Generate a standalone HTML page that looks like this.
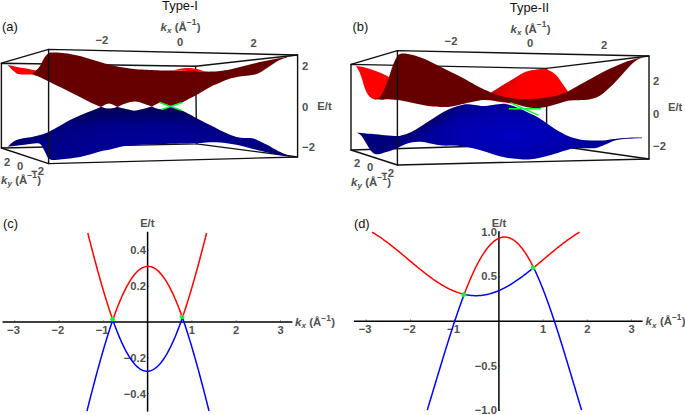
<!DOCTYPE html>
<html><head><meta charset="utf-8"><title>Type-I and Type-II Weyl</title>
<style>
html,body{margin:0;padding:0;background:#fff;}
body{width:685px;height:415px;overflow:hidden;font-family:"Liberation Sans",sans-serif;}
svg{display:block;}
text{font-family:"Liberation Sans",sans-serif;}
.t{font-size:11.2px;font-weight:bold;fill:#505050;}
.ti{font-size:11.2px;font-weight:bold;font-style:italic;fill:#505050;}
.p{font-size:12.9px;fill:#111;}
.e{stroke:#111;stroke-width:1.4;fill:none;stroke-linecap:round;stroke-linejoin:round;}
.ax{stroke:#000;stroke-width:1.5;fill:none;}
.tk{stroke:#333;stroke-width:0.6;fill:none;}
.r{stroke:#f00;stroke-width:1.5;fill:none;stroke-linejoin:round;}
.b{stroke:#00f;stroke-width:1.5;fill:none;stroke-linejoin:round;}
</style></head><body>
<svg width="685" height="415" viewBox="0 0 685 415">
<defs>
<radialGradient id="gb1" gradientUnits="userSpaceOnUse" cx="0" cy="0" r="1" gradientTransform="translate(150 152) scale(165 52)">
<stop offset="0" stop-color="#00009e"/><stop offset="0.5" stop-color="#00008e"/><stop offset="0.85" stop-color="#000070"/><stop offset="1" stop-color="#000066"/>
</radialGradient>
<radialGradient id="gb2" gradientUnits="userSpaceOnUse" cx="0" cy="0" r="1" gradientTransform="translate(512 136) scale(130 46)">
<stop offset="0" stop-color="#0000c2"/><stop offset="0.4" stop-color="#0000ae"/><stop offset="0.8" stop-color="#00008c"/><stop offset="1" stop-color="#00007c"/>
</radialGradient>
<linearGradient id="gk1" gradientUnits="userSpaceOnUse" x1="0" y1="104" x2="0" y2="126">
<stop offset="0" stop-color="#000030" stop-opacity="0.45"/><stop offset="1" stop-color="#000030" stop-opacity="0"/>
</linearGradient>
<radialGradient id="gk2" gradientUnits="userSpaceOnUse" cx="0" cy="0" r="1" gradientTransform="translate(428 112) rotate(-27) scale(52 20)">
<stop offset="0" stop-color="#000028" stop-opacity="0.55"/><stop offset="0.5" stop-color="#000028" stop-opacity="0.3"/><stop offset="1" stop-color="#000028" stop-opacity="0"/>
</radialGradient>
<linearGradient id="gr2" gradientUnits="userSpaceOnUse" x1="505" y1="72" x2="535" y2="95">
<stop offset="0" stop-color="#c00000"/><stop offset="0.45" stop-color="#f80000"/><stop offset="1" stop-color="#ff0000"/>
</linearGradient>
</defs>
<rect width="685" height="415" fill="#fff"/>
<text x="2" y="30.5" class="p" text-anchor="start">(a)</text>
<text x="180" y="10" class="p" text-anchor="middle">Type-I</text>
<text x="160.5" y="31" class="t" style="font-size:11.4px" text-anchor="start"><tspan style="font-style:italic">k</tspan><tspan style="font-style:italic;font-size:8px" dx="0.1" dy="2.1">x</tspan><tspan dx="3.4" dy="-2.1">(Å</tspan><tspan style="font-size:8.4px" dx="0" dy="-5.7">−1</tspan><tspan dx="0.3" dy="5.7">)</tspan></text>
<text x="101.8" y="44.4" class="t" text-anchor="middle">−2</text>
<text x="180" y="45.6" class="t" text-anchor="middle">0</text>
<text x="253.7" y="47.3" class="t" text-anchor="middle">2</text>
<text x="305" y="70" class="t" text-anchor="middle">2</text>
<text x="305" y="110.6" class="t" text-anchor="middle">0</text>
<text x="308.5" y="151.2" class="t" text-anchor="middle">−2</text>
<text x="324.5" y="109.8" class="t" text-anchor="middle">E/t</text>
<text x="7" y="165.8" class="t" text-anchor="middle">2</text>
<text x="20" y="169.6" class="t" text-anchor="middle">0</text>
<text x="37.5" y="174.6" class="t" text-anchor="middle">−2</text>
<text x="1" y="184" class="t" style="font-size:11.4px" text-anchor="start"><tspan style="font-style:italic">k</tspan><tspan style="font-style:italic;font-size:8px" dx="0.1" dy="2.1">y</tspan><tspan dx="3.4" dy="-2.1">(Å</tspan><tspan style="font-size:8.4px" dx="0" dy="-5.7">−1</tspan><tspan dx="0.3" dy="5.7">)</tspan></text>
<path class="e" d="M1.4 63.2L195.6 66.2L196.6 143.9L1.4 148Z"/>
<path class="e" d="M195.6 66.2L297.6 55"/>
<path class="e" d="M196.6 143.9L297.6 157"/>
<path class="e" d="M1.4 63.2L48.6 49.4"/>
<path class="e" d="M1.4 148L48.6 163.6"/>
<path fill="url(#gb1)" d="M8 146.4C8.83 145.67 11.33 143.15 13 142C14.67 140.85 16 140.17 18 139.5C20 138.83 22.67 138.42 25 138C27.33 137.58 29.5 137.5 32 137C34.5 136.5 37.23 135.83 40 135C42.77 134.17 45.27 133.53 48.6 132C51.93 130.47 56.43 127.8 60 125.8C63.57 123.8 66.67 121.72 70 120C73.33 118.28 76.58 116.95 80 115.5C83.42 114.05 87 112.73 90.5 111.3C94 109.87 99.25 107.63 101 106.9C102.32 107.17 106.12 108.5 108.9 108.5C111.68 108.5 116.23 107.17 117.7 106.9C119.08 107.25 123.23 108.37 126 109C128.77 109.63 131.47 110.7 134.3 110.7C137.13 110.7 140.08 109.72 143 109C145.92 108.28 150.33 106.83 151.8 106.4C152.5 106.72 154.38 107.78 156 108.3C157.62 108.82 159.83 109.5 161.5 109.5C163.17 109.5 164.42 108.82 166 108.3C167.58 107.78 170.17 106.72 171 106.4C171.83 106.72 174.23 107.63 176 108.3C177.77 108.97 179.27 109.37 181.6 110.4C183.93 111.43 186.93 112.9 190 114.5C193.07 116.1 196.33 118.08 200 120C203.67 121.92 208.03 124 212 126C215.97 128 220.47 130.42 223.8 132C227.13 133.58 229.67 134.62 232 135.5C234.33 136.38 235.8 136.88 237.8 137.3C239.8 137.72 241.97 137.87 244 138C246.03 138.13 248.33 137.98 250 138.1C251.67 138.22 252.83 138.4 254 138.7C255.17 139 255.67 139.32 257 139.9C258.33 140.48 260.23 141.33 262 142.2C263.77 143.07 265.77 144.08 267.6 145.1C269.43 146.12 271.27 147.33 273 148.3C274.73 149.27 276.42 150.12 278 150.9C279.58 151.68 281.02 152.35 282.5 153C283.98 153.65 284.9 154.13 286.9 154.8C288.9 155.47 293.23 156.63 294.5 157C292.92 156.78 288.32 156.22 285 155.7C281.68 155.18 278.38 154.63 274.6 153.9C270.82 153.17 266.4 152.23 262.3 151.3C258.2 150.37 254.08 149.33 250 148.3C245.92 147.27 241.88 145.98 237.8 145.1C233.72 144.22 229.3 143.48 225.5 143C221.7 142.52 218.25 142.28 215 142.2C211.75 142.12 209.07 142.32 206 142.5C202.93 142.68 200.93 143.12 196.6 143.3C192.27 143.48 186.1 143.45 180 143.6C173.9 143.75 166.67 144.02 160 144.2C153.33 144.38 146 144.38 140 144.7C134 145.02 128.67 145.38 124 146.1C119.33 146.82 116 148.1 112 149C108 149.9 103.67 150.58 100 151.5C96.33 152.42 93.33 153.58 90 154.5C86.67 155.42 83.33 156.33 80 157C76.67 157.67 73.33 158.08 70 158.5C66.67 158.92 62.5 159.25 60 159.5C57.5 159.75 56.33 159.92 55 160C53.67 160.08 52.83 160.12 52 160C51.17 159.88 50.67 159.63 50 159.3C49.33 158.97 48.75 159.05 48 158C47.25 156.95 46.33 154.67 45.5 153C44.67 151.33 43.75 149.37 43 148C42.25 146.63 41.83 145.58 41 144.8C40.17 144.02 39.83 143.43 38 143.3C36.17 143.17 33 143.67 30 144C27 144.33 22.83 144.93 20 145.3C17.17 145.67 15 146.02 13 146.2C11 146.38 8.83 146.37 8 146.4Z"/>
<path fill="url(#gk1)" d="M8 146.4C8.83 145.67 11.33 143.15 13 142C14.67 140.85 16 140.17 18 139.5C20 138.83 22.67 138.42 25 138C27.33 137.58 29.5 137.5 32 137C34.5 136.5 37.23 135.83 40 135C42.77 134.17 45.27 133.53 48.6 132C51.93 130.47 56.43 127.8 60 125.8C63.57 123.8 66.67 121.72 70 120C73.33 118.28 76.58 116.95 80 115.5C83.42 114.05 87 112.73 90.5 111.3C94 109.87 99.25 107.63 101 106.9C102.32 107.17 106.12 108.5 108.9 108.5C111.68 108.5 116.23 107.17 117.7 106.9C119.08 107.25 123.23 108.37 126 109C128.77 109.63 131.47 110.7 134.3 110.7C137.13 110.7 140.08 109.72 143 109C145.92 108.28 150.33 106.83 151.8 106.4C152.5 106.72 154.38 107.78 156 108.3C157.62 108.82 159.83 109.5 161.5 109.5C163.17 109.5 164.42 108.82 166 108.3C167.58 107.78 170.17 106.72 171 106.4C171.83 106.72 174.23 107.63 176 108.3C177.77 108.97 179.27 109.37 181.6 110.4C183.93 111.43 186.93 112.9 190 114.5C193.07 116.1 196.33 118.08 200 120C203.67 121.92 208.03 124 212 126C215.97 128 220.47 130.42 223.8 132C227.13 133.58 229.67 134.62 232 135.5C234.33 136.38 235.8 136.88 237.8 137.3C239.8 137.72 241.97 137.87 244 138C246.03 138.13 248.33 137.98 250 138.1C251.67 138.22 252.83 138.4 254 138.7C255.17 139 255.67 139.32 257 139.9C258.33 140.48 260.23 141.33 262 142.2C263.77 143.07 265.77 144.08 267.6 145.1C269.43 146.12 271.27 147.33 273 148.3C274.73 149.27 276.42 150.12 278 150.9C279.58 151.68 281.02 152.35 282.5 153C283.98 153.65 284.9 154.13 286.9 154.8C288.9 155.47 293.23 156.63 294.5 157C292.92 156.78 288.32 156.22 285 155.7C281.68 155.18 278.38 154.63 274.6 153.9C270.82 153.17 266.4 152.23 262.3 151.3C258.2 150.37 254.08 149.33 250 148.3C245.92 147.27 241.88 145.98 237.8 145.1C233.72 144.22 229.3 143.48 225.5 143C221.7 142.52 218.25 142.28 215 142.2C211.75 142.12 209.07 142.32 206 142.5C202.93 142.68 200.93 143.12 196.6 143.3C192.27 143.48 186.1 143.45 180 143.6C173.9 143.75 166.67 144.02 160 144.2C153.33 144.38 146 144.38 140 144.7C134 145.02 128.67 145.38 124 146.1C119.33 146.82 116 148.1 112 149C108 149.9 103.67 150.58 100 151.5C96.33 152.42 93.33 153.58 90 154.5C86.67 155.42 83.33 156.33 80 157C76.67 157.67 73.33 158.08 70 158.5C66.67 158.92 62.5 159.25 60 159.5C57.5 159.75 56.33 159.92 55 160C53.67 160.08 52.83 160.12 52 160C51.17 159.88 50.67 159.63 50 159.3C49.33 158.97 48.75 159.05 48 158C47.25 156.95 46.33 154.67 45.5 153C44.67 151.33 43.75 149.37 43 148C42.25 146.63 41.83 145.58 41 144.8C40.17 144.02 39.83 143.43 38 143.3C36.17 143.17 33 143.67 30 144C27 144.33 22.83 144.93 20 145.3C17.17 145.67 15 146.02 13 146.2C11 146.38 8.83 146.37 8 146.4Z"/>
<path fill="#ff0000" d="M7.6 65C8.83 65.23 12.1 65.85 15 66.4C17.9 66.95 21.5 67.6 25 68.3C28.5 69 33.5 70.07 36 70.6C38.5 71.13 39.33 71.35 40 71.5C39.33 72.08 37.33 74.48 36 75C34.67 75.52 32.67 74.67 32 74.6C30.83 74.57 27.33 74.5 25 74.4C22.67 74.3 20 74.65 18 74C16 73.35 14.73 72 13 70.5C11.27 69 8.5 65.92 7.6 65Z"/>
<path fill="#660000" d="M32 74C32.67 73.43 34.67 71.93 36 70.6C37.33 69.27 38.83 67.77 40 66C41.17 64.23 42 61.75 43 60C44 58.25 45 56.67 46 55.5C47 54.33 48 53.48 49 53C50 52.52 50.17 52.63 52 52.6C53.83 52.57 57 52.57 60 52.8C63 53.03 66.67 53.47 70 54C73.33 54.53 76.67 55.17 80 56C83.33 56.83 86.67 58 90 59C93.33 60 96.67 61.03 100 62C103.33 62.97 106.67 63.97 110 64.8C113.33 65.63 116.67 66.38 120 67C123.33 67.62 126.67 68.07 130 68.5C133.33 68.93 135 69.28 140 69.6C145 69.92 154.33 70.27 160 70.4C165.67 70.53 169 70.33 174 70.4C179 70.47 184.83 70.6 190 70.8C195.17 71 201.33 71.47 205 71.6C208.67 71.73 209.5 71.7 212 71.6C214.5 71.5 217 71.35 220 71C223 70.65 226.67 70.17 230 69.5C233.33 68.83 236.67 67.83 240 67C243.33 66.17 246.67 65.33 250 64.5C253.33 63.67 256.67 62.75 260 62C263.33 61.25 266.67 60.67 270 60C273.33 59.33 276.67 58.67 280 58C283.33 57.33 287.5 56.47 290 56C292.5 55.53 294.17 55.33 295 55.2C294.17 55.43 291.5 56.17 290 56.6C288.5 57.03 287.5 57.3 286 57.8C284.5 58.3 282.67 58.9 281 59.6C279.33 60.3 277.83 60.93 276 62C274.17 63.07 272 64.67 270 66C268 67.33 266 68.75 264 70C262 71.25 260 72.67 258 73.5C256 74.33 254 74.62 252 75C250 75.38 248 75.57 246 75.8C244 76.03 242.33 76.03 240 76.4C237.67 76.77 234.33 77.4 232 78C229.67 78.6 228.33 79.08 226 80C223.67 80.92 220.33 82.5 218 83.5C215.67 84.5 214.17 84.92 212 86C209.83 87.08 207 88.85 205 90C203 91.15 202.17 91.68 200 92.9C197.83 94.12 194.92 95.7 192 97.3C189.08 98.9 184.08 101.63 182.5 102.5L171 106.4L159.7 102.5L151.8 106.4C150.33 105.9 145.77 104.2 143 103.4C140.23 102.6 138.12 101.6 135.2 101.6C132.28 101.6 128.42 102.52 125.5 103.4C122.58 104.28 119 106.32 117.7 106.9C116.23 106.32 111.68 103.4 108.9 103.4C106.12 103.4 102.32 106.32 101 106.9C99.25 106.17 94 104.17 90.5 102.5C87 100.83 83.42 98.65 80 96.9C76.58 95.15 73.33 93.65 70 92C66.67 90.35 63.57 88.77 60 87C56.43 85.23 51.93 83.02 48.6 81.4C45.27 79.78 42.77 78.53 40 77.3C37.23 76.07 33.33 74.55 32 74Z"/>
<path fill="#ff0000" d="M173 70.6C174.17 70.3 177.5 69.23 180 68.8C182.5 68.37 185.33 68 188 68C190.67 68 193.08 68.17 196 68.8C198.92 69.43 203.92 71.3 205.5 71.8C202.92 71.7 195.42 71.4 190 71.2C184.58 71 175.83 70.7 173 70.6Z"/>
<path stroke="#00ff33" stroke-width="1.4" fill="none" d="M159.7 102.5L181.6 110.4M161.5 109.5L182.5 102.5"/>
<path class="e" d="M48.6 49.4L297.6 55L297.6 157L48.6 163.6Z"/>
<text x="352.5" y="31" class="p" text-anchor="start">(b)</text>
<text x="529.5" y="12" class="p" text-anchor="middle">Type-II</text>
<text x="510.5" y="32.5" class="t" style="font-size:11.4px" text-anchor="start"><tspan style="font-style:italic">k</tspan><tspan style="font-style:italic;font-size:8px" dx="0.1" dy="2.1">x</tspan><tspan dx="3.4" dy="-2.1">(Å</tspan><tspan style="font-size:8.4px" dx="0" dy="-5.7">−1</tspan><tspan dx="0.3" dy="5.7">)</tspan></text>
<text x="451" y="45.2" class="t" text-anchor="middle">−2</text>
<text x="530" y="46.9" class="t" text-anchor="middle">0</text>
<text x="604.2" y="48.6" class="t" text-anchor="middle">2</text>
<text x="656" y="84.6" class="t" text-anchor="middle">2</text>
<text x="656" y="117.7" class="t" text-anchor="middle">0</text>
<text x="659.5" y="150" class="t" text-anchor="middle">−2</text>
<text x="668" y="110.8" class="t" text-anchor="start">E/t</text>
<text x="357" y="167.2" class="t" text-anchor="middle">2</text>
<text x="370" y="171.2" class="t" text-anchor="middle">0</text>
<text x="387.5" y="176.6" class="t" text-anchor="middle">−2</text>
<text x="351" y="186" class="t" style="font-size:11.4px" text-anchor="start"><tspan style="font-style:italic">k</tspan><tspan style="font-style:italic;font-size:8px" dx="0.1" dy="2.1">y</tspan><tspan dx="3.4" dy="-2.1">(Å</tspan><tspan style="font-size:8.4px" dx="0" dy="-5.7">−1</tspan><tspan dx="0.3" dy="5.7">)</tspan></text>
<path class="e" d="M351 64.4L546.6 68.4L546.6 144.2L351 150Z"/>
<path class="e" d="M546.6 68.4L649 56"/>
<path class="e" d="M546.6 144.2L649 159"/>
<path class="e" d="M351 64.4L397.4 50.6"/>
<path class="e" d="M351 150L397.4 165"/>
<path fill="url(#gb2)" d="M356 132.4C357.33 132.53 361.17 132.93 364 133.2C366.83 133.47 369.5 133.67 373 134C376.5 134.33 380.93 134.87 385 135.2C389.07 135.53 394.4 136.03 397.4 136C400.4 135.97 401.07 135.5 403 135C404.93 134.5 406.83 133.92 409 133C411.17 132.08 413.67 130.83 416 129.5C418.33 128.17 420.67 126.5 423 125C425.33 123.5 427.67 122 430 120.5C432.33 119 434.83 117.37 437 116C439.17 114.63 441 113.42 443 112.3C445 111.18 447 110.18 449 109.3C451 108.42 453 107.68 455 107C457 106.32 459 105.67 461 105.2C463 104.73 464.67 104.23 467 104.2C469.33 104.17 472.33 104.7 475 105C477.67 105.3 480 106 483 106C486 106 489.67 105.37 493 105C496.33 104.63 500.5 103.88 503 103.8C505.5 103.72 506.33 104.13 508 104.5C509.67 104.87 511 105.28 513 106C515 106.72 517.67 107.8 520 108.8C522.33 109.8 524.83 111 527 112C529.17 113 531 113.8 533 114.8C535 115.8 536.67 116.55 539 118C541.33 119.45 544.33 121.67 547 123.5C549.67 125.33 552.33 127.33 555 129C557.67 130.67 561 132.42 563 133.5C565 134.58 565 134.7 567 135.5C569 136.3 572.33 137.55 575 138.3C577.67 139.05 580 139.63 583 140C586 140.37 589.67 140.43 593 140.5C596.33 140.57 599.33 140.65 603 140.4C606.67 140.15 611 139.4 615 139C619 138.6 622.58 138.2 627 138C631.42 137.8 639.08 137.83 641.5 137.8C639.08 137.93 631.42 138.15 627 138.6C622.58 139.05 618 139.77 615 140.5C612 141.23 611 142.17 609 143C607 143.83 604.83 144.75 603 145.5C601.17 146.25 599.67 147.03 598 147.5C596.33 147.97 595.5 148.17 593 148.3C590.5 148.43 586.33 148.27 583 148.3C579.67 148.33 575.67 148.22 573 148.5C570.33 148.78 570 149.12 567 150C564 150.88 558.33 152.8 555 153.8C551.67 154.8 549.67 155.3 547 156C544.33 156.7 541.67 157.47 539 158C536.33 158.53 533.67 158.97 531 159.2C528.33 159.43 526 159.5 523 159.4C520 159.3 516.33 159 513 158.6C509.67 158.2 506.33 157.73 503 157C499.67 156.27 496.33 155.2 493 154.2C489.67 153.2 486.33 151.98 483 151C479.67 150.02 476.33 149.07 473 148.3C469.67 147.53 466.33 146.85 463 146.4C459.67 145.95 456.33 145.73 453 145.6C449.67 145.47 446.33 145.87 443 145.6C439.67 145.33 436.33 144.6 433 144C429.67 143.4 425.83 142.33 423 142C420.17 141.67 418.33 141.83 416 142C413.67 142.17 411.17 142.45 409 143C406.83 143.55 404.93 144.47 403 145.3C401.07 146.13 399.57 147.05 397.4 148C395.23 148.95 392.4 150.17 390 151C387.6 151.83 384.83 152.47 383 153C381.17 153.53 380.33 154.03 379 154.2C377.67 154.37 376.17 154.37 375 154C373.83 153.63 373 153 372 152C371 151 370 149.5 369 148C368 146.5 367 144.67 366 143C365 141.33 364 139.42 363 138C362 136.58 361.17 135.43 360 134.5C358.83 133.57 356.67 132.75 356 132.4Z"/>
<path fill="url(#gk2)" d="M356 132.4C357.33 132.53 361.17 132.93 364 133.2C366.83 133.47 369.5 133.67 373 134C376.5 134.33 380.93 134.87 385 135.2C389.07 135.53 394.4 136.03 397.4 136C400.4 135.97 401.07 135.5 403 135C404.93 134.5 406.83 133.92 409 133C411.17 132.08 413.67 130.83 416 129.5C418.33 128.17 420.67 126.5 423 125C425.33 123.5 427.67 122 430 120.5C432.33 119 434.83 117.37 437 116C439.17 114.63 441 113.42 443 112.3C445 111.18 447 110.18 449 109.3C451 108.42 453 107.68 455 107C457 106.32 459 105.67 461 105.2C463 104.73 464.67 104.23 467 104.2C469.33 104.17 472.33 104.7 475 105C477.67 105.3 480 106 483 106C486 106 489.67 105.37 493 105C496.33 104.63 500.5 103.88 503 103.8C505.5 103.72 506.33 104.13 508 104.5C509.67 104.87 511 105.28 513 106C515 106.72 517.67 107.8 520 108.8C522.33 109.8 524.83 111 527 112C529.17 113 531 113.8 533 114.8C535 115.8 536.67 116.55 539 118C541.33 119.45 544.33 121.67 547 123.5C549.67 125.33 552.33 127.33 555 129C557.67 130.67 561 132.42 563 133.5C565 134.58 565 134.7 567 135.5C569 136.3 572.33 137.55 575 138.3C577.67 139.05 580 139.63 583 140C586 140.37 589.67 140.43 593 140.5C596.33 140.57 599.33 140.65 603 140.4C606.67 140.15 611 139.4 615 139C619 138.6 622.58 138.2 627 138C631.42 137.8 639.08 137.83 641.5 137.8C639.08 137.93 631.42 138.15 627 138.6C622.58 139.05 618 139.77 615 140.5C612 141.23 611 142.17 609 143C607 143.83 604.83 144.75 603 145.5C601.17 146.25 599.67 147.03 598 147.5C596.33 147.97 595.5 148.17 593 148.3C590.5 148.43 586.33 148.27 583 148.3C579.67 148.33 575.67 148.22 573 148.5C570.33 148.78 570 149.12 567 150C564 150.88 558.33 152.8 555 153.8C551.67 154.8 549.67 155.3 547 156C544.33 156.7 541.67 157.47 539 158C536.33 158.53 533.67 158.97 531 159.2C528.33 159.43 526 159.5 523 159.4C520 159.3 516.33 159 513 158.6C509.67 158.2 506.33 157.73 503 157C499.67 156.27 496.33 155.2 493 154.2C489.67 153.2 486.33 151.98 483 151C479.67 150.02 476.33 149.07 473 148.3C469.67 147.53 466.33 146.85 463 146.4C459.67 145.95 456.33 145.73 453 145.6C449.67 145.47 446.33 145.87 443 145.6C439.67 145.33 436.33 144.6 433 144C429.67 143.4 425.83 142.33 423 142C420.17 141.67 418.33 141.83 416 142C413.67 142.17 411.17 142.45 409 143C406.83 143.55 404.93 144.47 403 145.3C401.07 146.13 399.57 147.05 397.4 148C395.23 148.95 392.4 150.17 390 151C387.6 151.83 384.83 152.47 383 153C381.17 153.53 380.33 154.03 379 154.2C377.67 154.37 376.17 154.37 375 154C373.83 153.63 373 153 372 152C371 151 370 149.5 369 148C368 146.5 367 144.67 366 143C365 141.33 364 139.42 363 138C362 136.58 361.17 135.43 360 134.5C358.83 133.57 356.67 132.75 356 132.4Z"/>
<path stroke="#000050" stroke-width="0.8" fill="none" opacity="0.8" d="M381 146.5C382.17 146 385.27 144.42 388 143.5C390.73 142.58 395.83 141.42 397.4 141"/>
<path stroke="#000058" stroke-width="0.7" fill="none" d="M612 140L620 138.9L630 138.1L642 137.8"/>
<path fill="url(#gr2)" d="M483 96C484.33 95.4 488.67 93.6 491 92.4C493.33 91.2 495 90.03 497 88.8C499 87.57 500.33 86.63 503 85C505.67 83.37 509.67 81 513 79C516.33 77 520.17 74.42 523 73C525.83 71.58 527.67 71.1 530 70.5C532.33 69.9 534.83 69.68 537 69.4C539.17 69.12 541.33 68.8 543 68.8C544.67 68.8 545.5 68.87 547 69.4C548.5 69.93 550.33 70.9 552 72C553.67 73.1 555.33 74.17 557 76C558.67 77.83 560.17 80.43 562 83C563.83 85.57 566.33 89.23 568 91.4C569.67 93.57 571.33 95.23 572 96C566.67 97.33 552 103 540 104C528 105 509.5 103.33 500 102C490.5 100.67 485.83 97 483 96Z"/>
<path fill="#ff0000" d="M356 66C357.5 66.25 362.17 66.83 365 67.5C367.83 68.17 370.33 69.08 373 70C375.67 70.92 378.33 71.83 381 73C383.67 74.17 387 76 389 77C391 78 392.33 78.67 393 79C392.5 80.83 391.33 86.67 390 90C388.67 93.33 387.17 97.4 385 99C382.83 100.6 378.83 99.55 377 99.6C375.17 99.65 375.17 99.73 374 99.3C372.83 98.87 371.17 98.05 370 97C368.83 95.95 368 94.83 367 93C366 91.17 364.83 88.33 364 86C363.17 83.67 362.83 81.5 362 79C361.17 76.5 360 73.17 359 71C358 68.83 356.5 66.83 356 66Z"/>
<path fill="#660000" d="M374 99C374.5 98.93 376 98.93 377 98.6C378 98.27 379 98.1 380 97C381 95.9 382 94 383 92C384 90 385 87.5 386 85C387 82.5 387.83 80.33 389 77C390.17 73.67 391.6 68.5 393 65C394.4 61.5 396.23 57.83 397.4 56C398.57 54.17 399.07 54.4 400 54C400.93 53.6 401.67 53.6 403 53.6C404.33 53.6 406.33 53.77 408 54C409.67 54.23 411 54.45 413 55C415 55.55 417.67 56.47 420 57.3C422.33 58.13 424.5 58.88 427 60C429.5 61.12 432.33 62.67 435 64C437.67 65.33 440 66.5 443 68C446 69.5 449.67 71.33 453 73C456.33 74.67 460 76.42 463 78C466 79.58 468.33 81 471 82.5C473.67 84 475.67 85.35 479 87C482.33 88.65 487 90.83 491 92.4C495 93.97 499.33 95.43 503 96.4C506.67 97.37 509.67 97.77 513 98.2C516.33 98.63 519.67 98.9 523 99C526.33 99.1 529.67 98.97 533 98.8C536.33 98.63 539.33 98.47 543 98C546.67 97.53 551.67 96.75 555 96C558.33 95.25 560.83 94.27 563 93.5C565.17 92.73 566 92.4 568 91.4C570 90.4 572.5 88.9 575 87.5C577.5 86.1 580 84.67 583 83C586 81.33 589.67 79.33 593 77.5C596.33 75.67 599.67 73.7 603 72C606.33 70.3 609.67 68.8 613 67.3C616.33 65.8 620.17 64.13 623 63C625.83 61.87 627.67 61.23 630 60.5C632.33 59.77 634.5 59.25 637 58.6C639.5 57.95 643.67 56.93 645 56.6C644.17 56.92 641.33 57.93 640 58.5C638.67 59.07 638.17 59.25 637 60C635.83 60.75 634.33 61.83 633 63C631.67 64.17 630.5 65.42 629 67C627.5 68.58 625.67 70.67 624 72.5C622.33 74.33 620.83 76 619 78C617.17 80 615 82.5 613 84.5C611 86.5 609 88.25 607 90C605 91.75 603 93.67 601 95C599 96.33 597 97.27 595 98C593 98.73 591 99.07 589 99.4C587 99.73 585.33 99.85 583 100C580.67 100.15 577.67 100.13 575 100.3C572.33 100.47 570.33 100.3 567 101C563.67 101.7 558.33 103.53 555 104.5C551.67 105.47 549.67 106.22 547 106.8C544.33 107.38 541.67 107.83 539 108C536.33 108.17 533.67 108.1 531 107.8C528.33 107.5 526 106.9 523 106.2C520 105.5 516.33 104.33 513 103.6C509.67 102.87 506.33 102.33 503 101.8C499.67 101.27 496.33 100.7 493 100.4C489.67 100.1 486.33 99.77 483 100C479.67 100.23 476.33 101.13 473 101.8C469.67 102.47 466.33 103.27 463 104C459.67 104.73 455.67 105.7 453 106.2C450.33 106.7 449.17 106.87 447 107C444.83 107.13 442.33 107.07 440 107C437.67 106.93 435.83 106.93 433 106.6C430.17 106.27 426.33 105.6 423 105C419.67 104.4 416 103.62 413 103C410 102.38 407.6 101.8 405 101.3C402.4 100.8 400.73 100.33 397.4 100C394.07 99.67 388.4 99.47 385 99.3C381.6 99.13 378.83 99.05 377 99C375.17 98.95 374.5 99 374 99Z"/>
<path stroke="#00ff33" stroke-width="1.5" fill="none" d="M509 108.7L541 108.7M510.3 102.6L538.6 115.4"/>
<path class="e" d="M397.4 50.6L649 56L649 159L397.4 165Z"/>
<text x="3" y="228" class="p" text-anchor="start">(c)</text>
<path class="ax" d="M2.5 322L292.4 322"/>
<path class="ax" d="M147.6 231.8L147.6 411.6"/>
<path class="tk" d="M14.7 322L14.7 320.2"/>
<text x="13.5" y="334.2" class="t" text-anchor="middle">−3</text>
<path class="tk" d="M59 322L59 320.2"/>
<text x="57.8" y="334.2" class="t" text-anchor="middle">−2</text>
<path class="tk" d="M103.3 322L103.3 320.2"/>
<text x="102.1" y="334.2" class="t" text-anchor="middle">−1</text>
<path class="tk" d="M191.9 322L191.9 320.2"/>
<text x="191.9" y="334.2" class="t" text-anchor="middle">1</text>
<path class="tk" d="M236.2 322L236.2 320.2"/>
<text x="236.2" y="334.2" class="t" text-anchor="middle">2</text>
<path class="tk" d="M280.5 322L280.5 320.2"/>
<text x="280.5" y="334.2" class="t" text-anchor="middle">3</text>
<path class="tk" d="M147.6 250.4L149 250.4"/>
<text x="145.9" y="254.3" class="t" text-anchor="end">0.4</text>
<path class="tk" d="M147.6 286.2L149 286.2"/>
<text x="145.9" y="290.1" class="t" text-anchor="end">0.2</text>
<path class="tk" d="M147.6 357.8L149 357.8"/>
<text x="145.9" y="361.7" class="t" text-anchor="end">−0.2</text>
<path class="tk" d="M147.6 393.6L149 393.6"/>
<text x="145.9" y="397.5" class="t" text-anchor="end">−0.4</text>
<text x="147.3" y="227" class="t" text-anchor="middle">E/t</text>
<text x="295" y="326.3" class="t" style="font-size:11.4px" text-anchor="start"><tspan style="font-style:italic">k</tspan><tspan style="font-style:italic;font-size:8px" dx="0.1" dy="2.1">x</tspan><tspan dx="3.4" dy="-2.1">(Å</tspan><tspan style="font-size:8.4px" dx="0" dy="-5.7">−1</tspan><tspan dx="0.3" dy="5.7">)</tspan></text>
<path class="b" d="M86.98 410.96L87.66 408.28L88.39 405.4L89.12 402.52L89.85 399.66L90.59 396.81L91.32 393.97L92.05 391.15L92.78 388.34L93.51 385.55L94.24 382.78L94.97 380.02L95.7 377.28L96.43 374.56L97.16 371.85L97.9 369.17L98.63 366.51L99.36 363.87L100.09 361.25L100.82 358.65L101.55 356.08L102.28 353.53L103.01 351.01L103.74 348.51L104.47 346.04L105.2 343.6L105.94 341.18L106.67 338.79L107.4 336.43L108.13 334.11L108.86 331.81L109.59 329.54L110.32 327.3L111.05 325.1L111.78 322.93L112.51 320.79L113.25 321.18L113.98 323.21L114.71 325.2L115.44 327.16L116.17 329.08L116.9 330.97L117.63 332.82L118.36 334.62L119.09 336.39L119.82 338.12L120.55 339.82L121.29 341.47L122.02 343.08L122.75 344.65L123.48 346.17L124.21 347.66L124.94 349.1L125.67 350.5L126.4 351.86L127.13 353.17L127.86 354.44L128.6 355.67L129.33 356.85L130.06 357.99L130.79 359.08L131.52 360.13L132.25 361.13L132.98 362.08L133.71 362.99L134.44 363.85L135.17 364.67L135.9 365.43L136.64 366.15L137.37 366.83L138.1 367.45L138.83 368.03L139.56 368.56L140.29 369.05L141.02 369.48L141.75 369.87L142.48 370.2L143.21 370.49L143.95 370.73L144.68 370.92L145.41 371.07L146.14 371.16L146.87 371.21L147.6 371.21L148.33 371.15L149.06 371.05L149.79 370.91L150.52 370.71L151.25 370.46L151.99 370.17L152.72 369.82L153.45 369.43L154.18 368.99L154.91 368.5L155.64 367.97L156.37 367.38L157.1 366.75L157.83 366.07L158.56 365.35L159.3 364.57L160.03 363.75L160.76 362.89L161.49 361.97L162.22 361.01L162.95 360.01L163.68 358.96L164.41 357.86L165.14 356.72L165.87 355.53L166.6 354.3L167.34 353.03L168.07 351.71L168.8 350.34L169.53 348.94L170.26 347.49L170.99 346L171.72 344.47L172.45 342.89L173.18 341.28L173.91 339.62L174.65 337.93L175.38 336.19L176.11 334.42L176.84 332.6L177.57 330.75L178.3 328.86L179.03 326.94L179.76 324.98L180.49 322.98L181.22 320.94L181.95 318.87L182.69 318.44L183.42 320.54L184.15 322.68L184.88 324.85L185.61 327.05L186.34 329.28L187.07 331.54L187.8 333.84L188.53 336.16L189.26 338.52L190 340.9L190.73 343.32L191.46 345.76L192.19 348.23L192.92 350.72L193.65 353.24L194.38 355.78L195.11 358.35L195.84 360.95L196.57 363.56L197.3 366.2L198.04 368.86L198.77 371.54L199.5 374.24L200.23 376.96L200.96 379.7L201.69 382.46L202.42 385.23L203.15 388.02L203.88 390.83L204.61 393.65L205.35 396.48L206.08 399.33L206.81 402.19L207.54 405.06L208.27 407.95L209 410.84L209.03 410.96"/>
<path class="r" d="M87.8 233.04L88.39 235.36L89.12 238.22L89.85 241.07L90.59 243.91L91.32 246.73L92.05 249.53L92.78 252.32L93.51 255.1L94.24 257.85L94.97 260.59L95.7 263.31L96.43 266.01L97.16 268.69L97.9 271.35L98.63 273.99L99.36 276.61L100.09 279.2L100.82 281.77L101.55 284.32L102.28 286.84L103.01 289.33L103.74 291.8L104.47 294.24L105.2 296.65L105.94 299.04L106.67 301.39L107.4 303.72L108.13 306.01L108.86 308.28L109.59 310.51L110.32 312.71L111.05 314.88L111.78 317.01L112.51 319.11L113.25 318.68L113.98 316.61L114.71 314.58L115.44 312.58L116.17 310.62L116.9 308.69L117.63 306.8L118.36 304.95L119.09 303.14L119.82 301.36L120.55 299.63L121.29 297.93L122.02 296.28L122.75 294.66L123.48 293.09L124.21 291.56L124.94 290.07L125.67 288.62L126.4 287.21L127.13 285.85L127.86 284.53L128.6 283.26L129.33 282.02L130.06 280.84L130.79 279.7L131.52 278.6L132.25 277.55L132.98 276.54L133.71 275.58L134.44 274.67L135.17 273.8L135.9 272.98L136.64 272.21L137.37 271.48L138.1 270.8L138.83 270.17L139.56 269.59L140.29 269.05L141.02 268.56L141.75 268.12L142.48 267.73L143.21 267.39L143.95 267.09L144.68 266.85L145.41 266.65L146.14 266.5L146.87 266.4L147.6 266.35L148.33 266.35L149.06 266.39L149.79 266.49L150.52 266.63L151.25 266.82L151.99 267.06L152.72 267.35L153.45 267.69L154.18 268.08L154.91 268.51L155.64 268.99L156.37 269.52L157.1 270.1L157.83 270.73L158.56 271.4L159.3 272.12L160.03 272.89L160.76 273.71L161.49 274.57L162.22 275.47L162.95 276.43L163.68 277.43L164.41 278.48L165.14 279.57L165.87 280.7L166.6 281.89L167.34 283.11L168.07 284.38L168.8 285.7L169.53 287.05L170.26 288.45L170.99 289.9L171.72 291.38L172.45 292.91L173.18 294.48L173.91 296.09L174.65 297.74L175.38 299.43L176.11 301.16L176.84 302.93L177.57 304.74L178.3 306.59L179.03 308.47L179.76 310.39L180.49 312.35L181.22 314.35L181.95 316.38L182.69 316.77L183.42 314.63L184.15 312.46L184.88 310.25L185.61 308.02L186.34 305.75L187.07 303.45L187.8 301.12L188.53 298.76L189.26 296.38L190 293.96L190.73 291.52L191.46 289.04L192.19 286.55L192.92 284.02L193.65 281.48L194.38 278.9L195.11 276.31L195.84 273.69L196.57 271.05L197.3 268.39L198.04 265.7L198.77 263L199.5 260.28L200.23 257.54L200.96 254.78L201.69 252L202.42 249.21L203.15 246.4L203.88 243.58L204.61 240.75L205.35 237.9L206.08 235.03L206.58 233.04"/>
<circle cx="112.51" cy="319.14" r="2.4" fill="#00ff33"/>
<circle cx="182.09" cy="316.81" r="2.4" fill="#00ff33"/>
<text x="353.9" y="227.9" class="p" text-anchor="start">(d)</text>
<path class="ax" d="M354 321.2L642.6 321.2"/>
<path class="ax" d="M498.9 231.3L498.9 411"/>
<path class="tk" d="M366.3 321.2L366.3 319.4"/>
<text x="365.1" y="333.4" class="t" text-anchor="middle">−3</text>
<path class="tk" d="M410.5 321.2L410.5 319.4"/>
<text x="409.3" y="333.4" class="t" text-anchor="middle">−2</text>
<path class="tk" d="M454.7 321.2L454.7 319.4"/>
<text x="453.5" y="333.4" class="t" text-anchor="middle">−1</text>
<path class="tk" d="M543.1 321.2L543.1 319.4"/>
<text x="543.1" y="333.4" class="t" text-anchor="middle">1</text>
<path class="tk" d="M587.3 321.2L587.3 319.4"/>
<text x="587.3" y="333.4" class="t" text-anchor="middle">2</text>
<path class="tk" d="M631.5 321.2L631.5 319.4"/>
<text x="631.5" y="333.4" class="t" text-anchor="middle">3</text>
<path class="tk" d="M498.9 231.9L500.3 231.9"/>
<text x="496.9" y="235.8" class="t" text-anchor="end">1.0</text>
<path class="tk" d="M498.9 276.55L500.3 276.55"/>
<text x="496.9" y="280.45" class="t" text-anchor="end">0.5</text>
<path class="tk" d="M498.9 365.85L500.3 365.85"/>
<text x="496.9" y="369.75" class="t" text-anchor="end">−0.5</text>
<path class="tk" d="M498.9 410.5L500.3 410.5"/>
<text x="496.9" y="414.4" class="t" text-anchor="end">−1.0</text>
<text x="499" y="227.2" class="t" text-anchor="middle">E/t</text>
<text x="645.6" y="325.4" class="t" style="font-size:11.4px" text-anchor="start"><tspan style="font-style:italic">k</tspan><tspan style="font-style:italic;font-size:8px" dx="0.1" dy="2.1">x</tspan><tspan dx="3.4" dy="-2.1">(Å</tspan><tspan style="font-size:8.4px" dx="0" dy="-5.7">−1</tspan><tspan dx="0.3" dy="5.7">)</tspan></text>
<path class="b" d="M427.27 410.05L427.43 409.54L428.16 407.15L428.89 404.75L429.62 402.34L430.35 399.93L431.08 397.52L431.8 395.1L432.53 392.68L433.26 390.26L433.99 387.84L434.72 385.41L435.45 382.99L436.18 380.56L436.91 378.14L437.64 375.72L438.37 373.3L439.1 370.89L439.83 368.47L440.56 366.07L441.29 363.66L442.01 361.27L442.74 358.88L443.47 356.49L444.2 354.12L444.93 351.75L445.66 349.39L446.39 347.04L447.12 344.7L447.85 342.38L448.58 340.06L449.31 337.75L450.04 335.46L450.77 333.18L451.5 330.92L452.22 328.67L452.95 326.43L453.68 324.21L454.41 322.01L455.14 319.82L455.87 317.65L456.6 315.5L457.33 313.37L458.06 311.26L458.79 309.16L459.52 307.09L460.25 305.04L460.98 303.01L461.71 301L462.44 299.01L463.16 297.05L463.89 295.11L464.62 294.44L465.35 294.59L466.08 294.74L466.81 294.87L467.54 294.99L468.27 295.11L469 295.21L469.73 295.31L470.46 295.39L471.19 295.46L471.92 295.52L472.65 295.57L473.37 295.62L474.1 295.65L474.83 295.67L475.56 295.68L476.29 295.68L477.02 295.66L477.75 295.64L478.48 295.61L479.21 295.57L479.94 295.52L480.67 295.45L481.4 295.38L482.13 295.3L482.86 295.2L483.58 295.1L484.31 294.98L485.04 294.86L485.77 294.72L486.5 294.57L487.23 294.42L487.96 294.25L488.69 294.08L489.42 293.89L490.15 293.7L490.88 293.49L491.61 293.27L492.34 293.05L493.07 292.81L493.79 292.57L494.52 292.31L495.25 292.05L495.98 291.78L496.71 291.5L497.44 291.2L498.17 290.9L498.9 290.59L499.63 290.27L500.36 289.95L501.09 289.61L501.82 289.27L502.55 288.91L503.28 288.55L504.01 288.18L504.73 287.8L505.46 287.41L506.19 287.02L506.92 286.62L507.65 286.21L508.38 285.79L509.11 285.36L509.84 284.93L510.57 284.49L511.3 284.04L512.03 283.59L512.76 283.13L513.49 282.66L514.22 282.18L514.94 281.7L515.67 281.21L516.4 280.72L517.13 280.22L517.86 279.71L518.59 279.2L519.32 278.68L520.05 278.16L520.78 277.63L521.51 277.1L522.24 276.56L522.97 276.02L523.7 275.47L524.43 274.92L525.15 274.36L525.88 273.8L526.61 273.23L527.34 272.67L528.07 272.09L528.8 271.52L529.53 270.94L530.26 270.35L530.99 269.77L531.72 269.18L532.45 268.59L533.18 267.99L533.91 268.23L534.64 269.75L535.37 271.29L536.09 272.87L536.82 274.48L537.55 276.12L538.28 277.78L539.01 279.48L539.74 281.21L540.47 282.96L541.2 284.75L541.93 286.56L542.66 288.39L543.39 290.26L544.12 292.15L544.85 294.06L545.58 296L546.3 297.96L547.03 299.95L547.76 301.96L548.49 304L549.22 306.05L549.95 308.13L550.68 310.23L551.41 312.35L552.14 314.49L552.87 316.65L553.6 318.82L554.33 321.02L555.06 323.23L555.79 325.46L556.51 327.71L557.24 329.97L557.97 332.25L558.7 334.54L559.43 336.84L560.16 339.16L560.89 341.49L561.62 343.84L562.35 346.19L563.08 348.56L563.81 350.93L564.54 353.31L565.27 355.71L566 358.11L566.72 360.52L567.45 362.93L568.18 365.35L568.91 367.78L569.64 370.21L570.37 372.64L571.1 375.08L571.83 377.52L572.56 379.97L573.29 382.41L574.02 384.85L574.75 387.3L575.48 389.74L576.21 392.19L576.94 394.63L577.66 397.07L578.39 399.5L579.12 401.93L579.85 404.36L580.58 406.78L581.31 409.19L581.57 410.05"/>
<path class="r" d="M372.05 232.17L372.73 232.57L373.46 233L374.19 233.45L374.92 233.9L375.65 234.35L376.38 234.81L377.11 235.28L377.84 235.76L378.57 236.24L379.29 236.73L380.02 237.22L380.75 237.72L381.48 238.22L382.21 238.74L382.94 239.25L383.67 239.77L384.4 240.3L385.13 240.83L385.86 241.37L386.59 241.91L387.32 242.45L388.05 243L388.78 243.56L389.5 244.12L390.23 244.68L390.96 245.25L391.69 245.82L392.42 246.39L393.15 246.97L393.88 247.55L394.61 248.13L395.34 248.72L396.07 249.31L396.8 249.9L397.53 250.49L398.26 251.09L398.99 251.69L399.72 252.29L400.44 252.89L401.17 253.5L401.9 254.1L402.63 254.71L403.36 255.32L404.09 255.93L404.82 256.54L405.55 257.15L406.28 257.76L407.01 258.38L407.74 258.99L408.47 259.6L409.2 260.21L409.93 260.83L410.65 261.44L411.38 262.05L412.11 262.66L412.84 263.27L413.57 263.88L414.3 264.48L415.03 265.09L415.76 265.69L416.49 266.3L417.22 266.9L417.95 267.49L418.68 268.09L419.41 268.68L420.14 269.27L420.86 269.86L421.59 270.45L422.32 271.03L423.05 271.61L423.78 272.18L424.51 272.76L425.24 273.32L425.97 273.89L426.7 274.45L427.43 275L428.16 275.55L428.89 276.1L429.62 276.64L430.35 277.18L431.08 277.71L431.8 278.24L432.53 278.76L433.26 279.28L433.99 279.79L434.72 280.29L435.45 280.79L436.18 281.28L436.91 281.77L437.64 282.25L438.37 282.72L439.1 283.19L439.83 283.65L440.56 284.1L441.29 284.55L442.01 284.99L442.74 285.42L443.47 285.84L444.2 286.26L444.93 286.67L445.66 287.07L446.39 287.46L447.12 287.85L447.85 288.23L448.58 288.6L449.31 288.96L450.04 289.31L450.77 289.65L451.5 289.99L452.22 290.31L452.95 290.63L453.68 290.94L454.41 291.24L455.14 291.53L455.87 291.81L456.6 292.08L457.33 292.34L458.06 292.6L458.79 292.84L459.52 293.07L460.25 293.3L460.98 293.51L461.71 293.72L462.44 293.91L463.16 294.1L463.89 294.27L464.62 293.19L465.35 291.3L466.08 289.44L466.81 287.6L467.54 285.78L468.27 283.99L469 282.23L469.73 280.5L470.46 278.8L471.19 277.12L471.92 275.47L472.65 273.86L473.37 272.27L474.1 270.71L474.83 269.18L475.56 267.69L476.29 266.22L477.02 264.79L477.75 263.39L478.48 262.02L479.21 260.69L479.94 259.39L480.67 258.12L481.4 256.89L482.13 255.69L482.86 254.53L483.58 253.4L484.31 252.31L485.04 251.25L485.77 250.23L486.5 249.24L487.23 248.3L487.96 247.38L488.69 246.51L489.42 245.67L490.15 244.87L490.88 244.11L491.61 243.39L492.34 242.7L493.07 242.06L493.79 241.45L494.52 240.88L495.25 240.35L495.98 239.86L496.71 239.4L497.44 238.99L498.17 238.62L498.9 238.28L499.63 237.99L500.36 237.73L501.09 237.52L501.82 237.34L502.55 237.21L503.28 237.11L504.01 237.06L504.73 237.04L505.46 237.07L506.19 237.13L506.92 237.24L507.65 237.39L508.38 237.57L509.11 237.8L509.84 238.06L510.57 238.37L511.3 238.71L512.03 239.1L512.76 239.52L513.49 239.98L514.22 240.49L514.94 241.03L515.67 241.61L516.4 242.23L517.13 242.89L517.86 243.59L518.59 244.32L519.32 245.1L520.05 245.91L520.78 246.76L521.51 247.65L522.24 248.57L522.97 249.54L523.7 250.53L524.43 251.57L525.15 252.64L525.88 253.75L526.61 254.9L527.34 256.07L528.07 257.29L528.8 258.54L529.53 259.82L530.26 261.14L530.99 262.49L531.72 263.88L532.45 265.3L533.18 266.75L533.91 267.39L534.64 266.79L535.37 266.19L536.09 265.59L536.82 264.98L537.55 264.38L538.28 263.77L539.01 263.16L539.74 262.55L540.47 261.94L541.2 261.33L541.93 260.71L542.66 260.1L543.39 259.49L544.12 258.87L544.85 258.26L545.58 257.65L546.3 257.03L547.03 256.42L547.76 255.81L548.49 255.2L549.22 254.59L549.95 253.98L550.68 253.38L551.41 252.77L552.14 252.17L552.87 251.57L553.6 250.97L554.33 250.37L555.06 249.77L555.79 249.18L556.51 248.59L557.24 248.01L557.97 247.42L558.7 246.84L559.43 246.26L560.16 245.69L560.89 245.12L561.62 244.55L562.35 243.99L563.08 243.43L563.81 242.88L564.54 242.33L565.27 241.78L566 241.24L566.72 240.71L567.45 240.18L568.18 239.65L568.91 239.13L569.64 238.61L570.37 238.1L571.1 237.6L571.83 237.1L572.56 236.61L573.29 236.12L574.02 235.64L574.75 235.17L575.48 234.7L576.21 234.24L576.94 233.78L577.66 233.34L578.39 232.89L579.12 232.46L579.62 232.17"/>
<circle cx="463.69" cy="294.54" r="2.4" fill="#00ff33"/>
<circle cx="533.11" cy="267.83" r="2.4" fill="#00ff33"/>
</svg>
</body></html>
